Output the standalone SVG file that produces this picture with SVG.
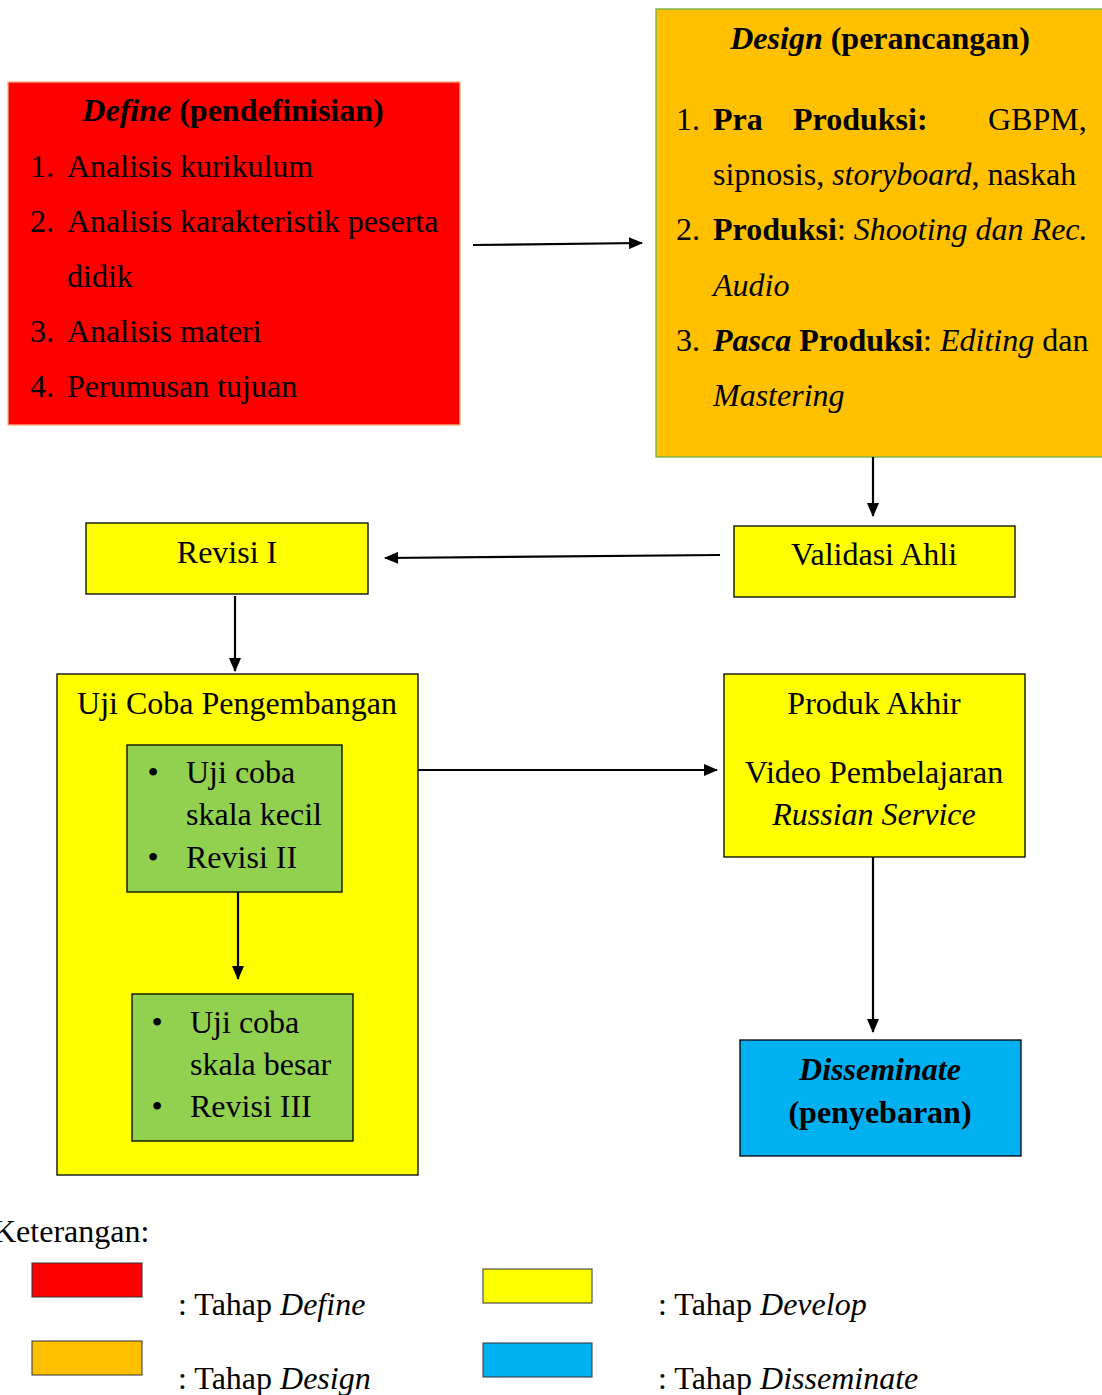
<svg xmlns="http://www.w3.org/2000/svg" width="1102" height="1395" viewBox="0 0 1102 1395">
<style>
text{font-family:"Liberation Serif","Times New Roman",serif;font-size:32px;fill:#000}
.b{font-weight:bold}
.i{font-style:italic}
.c{text-anchor:middle}
.box{stroke:#000;stroke-width:1.3}
.y{fill:#FFFF00}
.g{fill:#92D050}
.con{stroke:#000;stroke-width:2.2;fill:none;marker-end:url(#ah)}
</style>
<defs>
<marker id="ah" markerWidth="14" markerHeight="12" refX="13" refY="6" orient="auto" markerUnits="userSpaceOnUse">
<path d="M0,0 L14,6 L0,12 Z" fill="#000"/>
</marker>
</defs>
<rect width="1102" height="1395" fill="#fff"/>

<g id="define">
<rect x="8" y="82" width="452" height="343" fill="#FF0000" stroke="#F4B183" stroke-width="1.3"/>
<text x="233" y="121" class="c b"><tspan class="i">Define</tspan> (pendefinisian)</text>
<text x="30" y="177">1.</text><text x="67" y="177">Analisis kurikulum</text>
<text x="30" y="232">2.</text><text x="67" y="232">Analisis karakteristik peserta</text>
<text x="67" y="287">didik</text>
<text x="30" y="342">3.</text><text x="67" y="342">Analisis materi</text>
<text x="30" y="397">4.</text><text x="67" y="397">Perumusan tujuan</text>
</g>

<g id="design">
<rect x="656" y="9" width="450" height="448" fill="#FFC000" stroke="#70AD47" stroke-width="1.3"/>
<text x="880" y="49" class="c b"><tspan class="i">Design</tspan> (perancangan)</text>
<text x="676" y="130">1.</text><text x="713" y="130" class="b">Pra</text><text x="793" y="130" class="b">Produksi:</text><text x="988" y="130">GBPM,</text>
<text x="713" y="185">sipnosis, <tspan class="i">storyboard</tspan>, naskah</text>
<text x="676" y="240">2.</text><text x="713" y="240"><tspan class="b">Produksi</tspan>: <tspan class="i">Shooting dan Rec.</tspan></text>
<text x="713" y="296" class="i">Audio</text>
<text x="676" y="351">3.</text><text x="713" y="351"><tspan class="b i">Pasca</tspan> <tspan class="b">Produksi</tspan>: <tspan class="i">Editing</tspan> dan</text>
<text x="713" y="406" class="i">Mastering</text>
</g>

<g id="validasi">
<rect x="734" y="526" width="281" height="71" class="box y"/>
<text x="874" y="565" class="c">Validasi Ahli</text>
</g>

<g id="revisi1">
<rect x="86" y="523" width="282" height="71" class="box y"/>
<text x="227" y="563" class="c">Revisi I</text>
</g>

<g id="ujicoba">
<rect x="57" y="674" width="361" height="501" class="box y"/>
<text x="237" y="714" class="c">Uji Coba Pengembangan</text>
</g>

<g id="kecil">
<rect x="127" y="745" width="215" height="147" class="box g"/>
<text x="153" y="783" class="c">•</text><text x="186" y="783">Uji coba</text>
<text x="186" y="825">skala kecil</text>
<text x="153" y="868" class="c">•</text><text x="186" y="868">Revisi II</text>
</g>

<g id="besar">
<rect x="132" y="994" width="221" height="147" class="box g"/>
<text x="157" y="1033" class="c">•</text><text x="190" y="1033">Uji coba</text>
<text x="190" y="1075">skala besar</text>
<text x="157" y="1117" class="c">•</text><text x="190" y="1117">Revisi III</text>
</g>

<g id="produk">
<rect x="724" y="674" width="301" height="183" class="box y"/>
<text x="874" y="714" class="c">Produk Akhir</text>
<text x="874" y="783" class="c">Video Pembelajaran</text>
<text x="874" y="825" class="c i">Russian Service</text>
</g>

<g id="disseminate">
<rect x="740" y="1040" width="281" height="116" fill="#00B0F0" stroke="#000" stroke-width="1.3"/>
<text x="880" y="1080" class="c b i">Disseminate</text>
<text x="880" y="1123" class="c b">(penyebaran)</text>
</g>

<g id="connectors">
<line x1="473" y1="245" x2="642" y2="243" class="con"/>
<line x1="873" y1="457" x2="873" y2="516" class="con"/>
<line x1="720" y1="555" x2="385" y2="558" class="con"/>
<line x1="235" y1="596" x2="235" y2="671" class="con"/>
<line x1="238" y1="892" x2="238" y2="979" class="con"/>
<line x1="418" y1="770" x2="717" y2="770" class="con"/>
<line x1="873" y1="857" x2="873" y2="1032" class="con"/>
</g>

<g id="legend">
<text x="-7" y="1242">Keterangan:</text>
<rect x="32" y="1263" width="110" height="34" fill="#FF0000" stroke="#333" stroke-width="1"/>
<text x="178" y="1315">: Tahap <tspan class="i">Define</tspan></text>
<rect x="483" y="1269" width="109" height="34" fill="#FFFF00" stroke="#333" stroke-width="1"/>
<text x="658" y="1315">: Tahap <tspan class="i">Develop</tspan></text>
<rect x="32" y="1341" width="110" height="34" fill="#FFC000" stroke="#333" stroke-width="1"/>
<text x="178" y="1389">: Tahap <tspan class="i">Design</tspan></text>
<rect x="483" y="1343" width="109" height="34" fill="#00B0F0" stroke="#333" stroke-width="1"/>
<text x="658" y="1389">: Tahap <tspan class="i">Disseminate</tspan></text>
</g>
</svg>
